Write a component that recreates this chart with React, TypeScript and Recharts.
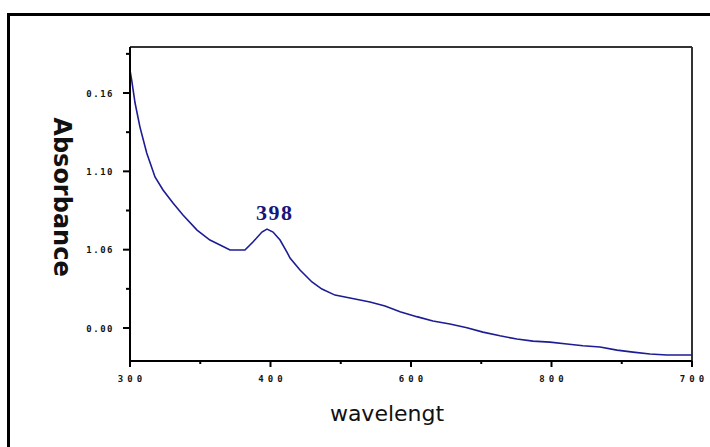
import { LineChart, Line, XAxis, YAxis, ReferenceLine, ReferenceDot } from 'recharts'

const wavelength = [
  300, 301.2, 303.6, 307.1, 311.9, 317.8, 323.5, 330.6, 337.7, 347.7, 356.9, 364.1, 371.2, 381.8,
  387.5, 393.9, 397.5, 401.8, 406.8, 411.7, 413.9, 421.0, 429.5, 436.6, 445.9, 456.6, 470.8, 481.5,
  492.2, 504.1, 515.6, 527.7, 539.8, 551.2, 563.3, 575.4, 586.8, 598.9, 611.0, 622.4, 634.5, 646.6,
  658.0, 670.1, 682.2, 698.6, 700,
]
const absorbance = [
  0.1717, 0.1666, 0.1549, 0.1426, 0.1294, 0.1171, 0.1105, 0.1038, 0.0977, 0.09, 0.0849, 0.0824,
  0.0798, 0.0798, 0.0839, 0.089, 0.0905, 0.089, 0.0849, 0.0788, 0.0757, 0.0696, 0.0635, 0.0599,
  0.0568, 0.0553, 0.0533, 0.0512, 0.0483, 0.0458, 0.0436, 0.042, 0.0401, 0.0379, 0.036, 0.0344,
  0.0333, 0.0328, 0.0318, 0.0309, 0.0303, 0.0287, 0.0277, 0.0267, 0.0262, 0.0262, 0.0262,
]

// ticks as printed on the original figure
const xTicks = [300, 350, 400, 450, 500, 550, 600, 650, 700]
const xTickLabels: Record<number, string> = { 300: '300', 400: '400', 500: '600', 600: '800', 700: '700' }
const yTicks = [0.04, 0.06, 0.08, 0.1, 0.12, 0.14, 0.16, 0.18]
const yTickLabels: Record<string, string> = { '0.04': '0.00', '0.08': '1.06', '0.12': '1.10', '0.16': '0.16' }

const peak = { x: 398, y: 0.0905, label: '398' }

const X_MIN = 300
const X_MAX = 700
const Y_MIN = 0.02315
const Y_MAX = 0.1835

const data = wavelength.map((w, i) => ({ w, a: absorbance[i] }))

const lineColor = '#1c1c94'

const XTick = (props: any) => {
  const { x, y, payload } = props
  const label = xTickLabels[payload.value]
  const major = label !== undefined
  return (
    <g>
      <line x1={x} y1={y} x2={x} y2={y + (major ? 6 : 3)} stroke="#000" strokeWidth={2} />
      {major && (
        <text
          x={x + 2}
          y={y + 21}
          textAnchor="middle"
          fontFamily="DejaVu Sans Mono"
          fontWeight="bold"
          fontSize={9}
          letterSpacing={4}
          fill="#111"
        >
          {label}
        </text>
      )}
    </g>
  )
}

const YTick = (props: any) => {
  const { x, y, payload } = props
  const label = yTickLabels[payload.value.toFixed(2)]
  const major = label !== undefined
  return (
    <g>
      <line x1={x - (major ? 7 : 4)} y1={y} x2={x} y2={y} stroke="#000" strokeWidth={2} />
      {major && (
        <text
          x={x - 16}
          y={y + 3.5}
          textAnchor="end"
          fontFamily="DejaVu Sans Mono"
          fontWeight="bold"
          fontSize={9}
          letterSpacing={1.5}
          fill="#111"
        >
          {label}
        </text>
      )}
    </g>
  )
}

export default function App() {
  return (
    <div
      style={{
        position: 'fixed',
        left: 0,
        top: 0,
        width: 710,
        height: 447,
        overflow: 'hidden',
        background: '#fff',
      }}
    >
      <div
        style={{
          position: 'absolute',
          left: 7,
          top: 13,
          width: 760,
          height: 500,
          border: '3px solid #000',
        }}
      />
      <div
        style={{
          position: 'absolute',
          left: 62,
          top: 197,
          transform: 'translate(-50%, -50%) rotate(90deg)',
          fontFamily: 'DejaVu Sans',
          fontWeight: 'bold',
          fontSize: 24,
          color: '#111',
          whiteSpace: 'nowrap',
        }}
      >
        Absorbance
      </div>
      <div
        style={{
          position: 'absolute',
          left: 387,
          top: 413,
          transform: 'translate(-50%, -50%)',
          fontFamily: 'DejaVu Sans',
          fontSize: 22,
          color: '#111',
          whiteSpace: 'nowrap',
        }}
      >
        wavelengt
      </div>
      <div style={{ position: 'absolute', left: 0, top: 0 }}>
        <LineChart width={710} height={447} data={data} margin={{ top: 47, right: 18, left: 80, bottom: 46 }}>
          <XAxis
            dataKey="w"
            type="number"
            domain={[X_MIN, X_MAX]}
            ticks={xTicks}
            allowDataOverflow
            height={40}
            tickSize={0}
            tickMargin={0}
            tickLine={false}
            axisLine={{ stroke: '#000', strokeWidth: 2 }}
            tick={<XTick />}
            interval={0}
          />
          <YAxis
            type="number"
            domain={[Y_MIN, Y_MAX]}
            ticks={yTicks}
            allowDataOverflow
            width={50}
            tickSize={0}
            tickMargin={0}
            tickLine={false}
            axisLine={{ stroke: '#000', strokeWidth: 2 }}
            tick={<YTick />}
            interval={0}
          />
          <ReferenceLine y={Y_MAX} stroke="#333" strokeWidth={2} />
          <ReferenceLine x={X_MAX} stroke="#333" strokeWidth={2} />
          <Line
            type="linear"
            dataKey="a"
            stroke={lineColor}
            strokeWidth={1.6}
            dot={false}
            isAnimationActive={false}
          />
          <ReferenceDot
            x={peak.x}
            y={peak.y}
            r={0}
            shape={(p: any) => (
              <text
                x={p.cx + 7}
                y={p.cy - 9}
                textAnchor="middle"
                fontFamily="Liberation Serif"
                fontWeight="bold"
                fontSize={22}
                letterSpacing={1.5}
                fill="#16167a"
              >
                {peak.label}
              </text>
            )}
          />
        </LineChart>
      </div>
    </div>
  )
}
